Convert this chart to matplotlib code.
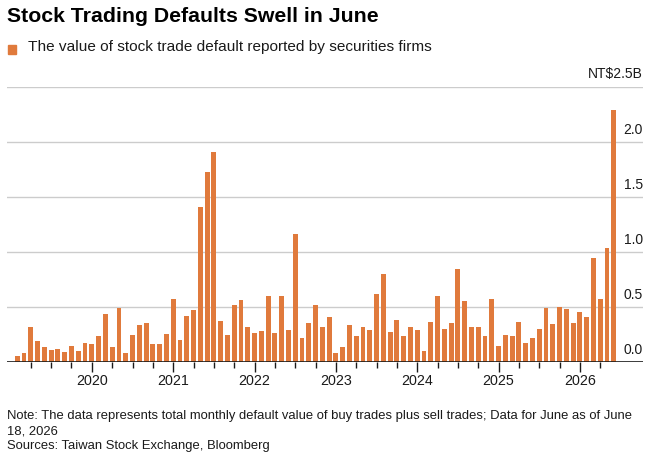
import numpy as np
import matplotlib
matplotlib.use("Agg")
import matplotlib.pyplot as plt

plt.rcParams["font.family"] = ["Liberation Sans", "DejaVu Sans"]

# monthly values, Feb 2019 .. Jun 2026 (NT$ billion)
values = [
    0.05, 0.08, 0.32, 0.19, 0.13, 0.11, 0.12, 0.09, 0.14, 0.10, 0.17,            # 2019 Feb-Dec
    0.16, 0.23, 0.43, 0.13, 0.49, 0.08, 0.24, 0.33, 0.35, 0.16, 0.16, 0.25,      # 2020
    0.57, 0.20, 0.42, 0.47, 1.41, 1.72, 1.91, 0.37, 0.24, 0.52, 0.56, 0.32,      # 2021
    0.26, 0.28, 0.60, 0.26, 0.60, 0.29, 1.16, 0.22, 0.35, 0.52, 0.32, 0.41,      # 2022
    0.08, 0.13, 0.33, 0.23, 0.32, 0.29, 0.62, 0.80, 0.27, 0.38, 0.23, 0.32,      # 2023
    0.29, 0.10, 0.36, 0.60, 0.30, 0.35, 0.84, 0.55, 0.32, 0.32, 0.23, 0.57,      # 2024
    0.14, 0.24, 0.23, 0.36, 0.17, 0.22, 0.30, 0.49, 0.34, 0.50, 0.48, 0.35,      # 2025
    0.45, 0.41, 0.94, 0.57, 1.03, 2.29,                                          # 2026 Jan-Jun
]
years = [2020, 2021, 2022, 2023, 2024, 2025, 2026]
y_ticks = [0.0, 0.5, 1.0, 1.5, 2.0]
first_month = 2  # series starts in February 2019

x = np.arange(len(values))
color = "#E07A3C"

fig = plt.figure(figsize=(6.58, 4.55), dpi=100)
ax = fig.add_axes([0.0111, 0.205, 0.966, 0.6045])

ax.bar(x, values, width=0.72, color=color, zorder=3)

ax.set_xlim(-1.47, 92.3)
ax.set_ylim(0, 2.5)

# gridlines
for v in y_ticks[1:] + [2.5]:
    ax.axhline(v, color="#cccccc", lw=1.0, zorder=1)
ax.axhline(0, color="#1a1a1a", lw=1.2, zorder=4)

# y labels sit above gridlines on the right
for v in y_ticks:
    ax.text(1.0, v + 0.105, f"{v:.1f}", transform=ax.get_yaxis_transform(),
            ha="right", va="center", fontsize=10, color="#1a1a1a")
ax.text(1.0, 2.5 + 0.115, "NT$2.5B", transform=ax.get_yaxis_transform(),
        ha="right", va="center", fontsize=10, color="#1a1a1a", clip_on=False)

# x ticks: years major, quarters minor
major = [(y - 2019) * 12 + 1 - first_month for y in years]
minor = [i for i in range(len(values)) if (i + first_month - 1) % 3 == 0 and i not in major]
ax.set_xticks(major)
ax.set_xticklabels([str(y) for y in years], fontsize=10.3, color="#1a1a1a")
ax.set_xticks(minor, minor=True)
ax.tick_params(axis="x", which="major", length=7, width=1, color="#1a1a1a", pad=2)
ax.tick_params(axis="x", which="minor", length=4, width=1, color="#1a1a1a")
ax.set_yticks([])

for s in ax.spines.values():
    s.set_visible(False)

# title and legend
fig.text(0.0111, 0.963, "Stock Trading Defaults Swell in June", fontsize=15.3,
         fontweight="bold", ha="left", va="center", color="black")
fig.patches.append(plt.Rectangle((8 / 658, 1 - 53.5 / 455), 8 / 658, 8 / 455,
                                 transform=fig.transFigure, color=color))
fig.text(28 / 658, 1 - 47.5 / 455,
         "The value of stock trade default reported by securities firms",
         fontsize=11.1, ha="left", va="center", color="#1a1a1a")

# footnotes
fig.text(0.0111, 1 - 416.5 / 455,
         "Note: The data represents total monthly default value of buy trades plus sell trades; Data for June as of June",
         fontsize=9.4, ha="left", va="center", color="#1a1a1a")
fig.text(0.0111, 1 - 431 / 455, "18, 2026",
         fontsize=9.4, ha="left", va="center", color="#1a1a1a")
fig.text(0.0111, 1 - 446.5 / 455, "Sources: Taiwan Stock Exchange, Bloomberg",
         fontsize=9.4, ha="left", va="center", color="#1a1a1a")

fig.savefig("out.png", dpi=100)
